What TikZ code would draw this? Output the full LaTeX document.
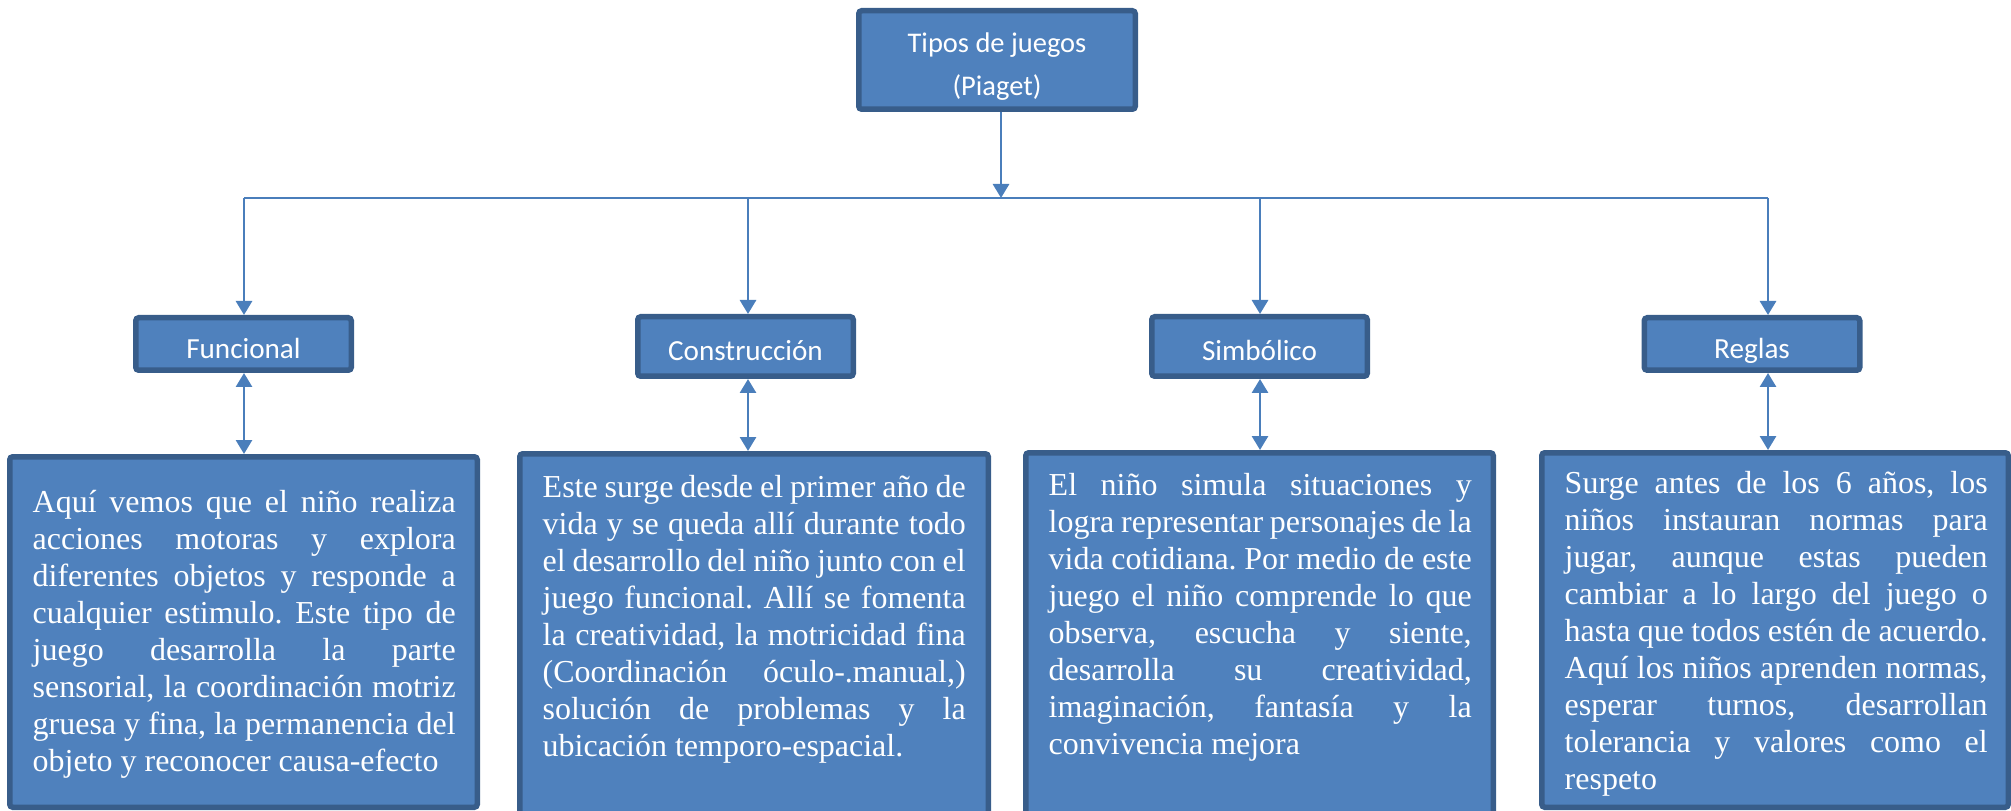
\documentclass[tikz,border=0pt]{standalone}
\usepackage{fontspec}
\setmainfont{Liberation Serif}
\newfontfamily\calibri{Carlito}
\usepackage{tikz}
\usetikzlibrary{arrows.meta,positioning}

\definecolor{boxfill}{HTML}{4F81BD}
\definecolor{boxline}{HTML}{385D8A}
\definecolor{linkcol}{HTML}{4A7EBB}
\newcommand{\descfont}{\fontsize{9.1}{10.5}\selectfont\frenchspacing\hyphenpenalty=10000\exhyphenpenalty=10000}

\begin{document}
\begin{tikzpicture}[x=0.1mm,y=-0.1mm,
    box/.style={draw=boxline,fill=boxfill,line width=0.55mm,rounded corners=0.3mm,text=white},
    tipo/.style={box,font=\calibri\fontsize{8.3}{10}\selectfont,minimum width=21.55mm,
      minimum height=5.25mm,inner sep=0pt,text height=2.8mm,text depth=0pt},
    desc/.style={box,minimum width=46.75mm,inner sep=0pt},
    desctext/.style={text=white,text width=42.3mm,align=justify,inner sep=0pt,font=\descfont},
    link/.style={draw=linkcol,line width=0.8pt,-{Triangle[width=1.6mm,length=1.4mm]}},
    dlink/.style={link,{Triangle[width=1.6mm,length=1.4mm]}-{Triangle[width=1.6mm,length=1.4mm]}}]
  \useasboundingbox (0,0) rectangle (2011,811);
  \clip (0,0) rectangle (2011,811);

  \node[box,font=\calibri\fontsize{8.1}{12.2}\selectfont,align=center,text height=21.5pt,
    minimum width=27.65mm,minimum height=9.85mm,inner sep=0pt] (tipos) at (997,60) {Tipos de juegos\\(Piaget)};

  \node[tipo] (t_1) at (243.5,344) {Funcional};
  \node[tipo,minimum height=5.95mm] (t_2) at (745.5,346.5) {Construcción};
  \node[tipo,minimum height=5.95mm] (t_3) at (1259.5,346.5) {Simbólico};
  \node[tipo] (t_4) at (1752,344) {Reglas};

  \node[desc,minimum height=35.05mm] (d_1) at (243.5,632) {};
  \node[desc,minimum width=46.85mm,minimum height=38.35mm] (d_2) at (754,645.5) {};
  \node[desc,minimum height=38.45mm] (d_3) at (1259.5,645) {};
  \node[desc,minimum width=46.65mm,minimum height=35.45mm] (d_4) at (1775,630) {};

  \node[desctext,below right=3.6mm and 2.5mm of d_1.north west] (x_1) {%
    Aquí vemos que el niño realiza\linebreak
    acciones motoras y explora\linebreak
    diferentes objetos y responde a\linebreak
    cualquier estimulo. Este tipo de\linebreak
    juego desarrolla la parte\linebreak
    sensorial, la coordinación motriz\linebreak
    gruesa y fina, la permanencia del\linebreak
    objeto y reconocer causa-efecto};
  \node[desctext,below right=2.4mm and 2.5mm of d_2.north west] (x_2) {%
    Este surge desde el primer año de\linebreak
    vida y se queda allí durante todo\linebreak
    el desarrollo del niño junto con el\linebreak
    juego funcional. Allí se fomenta\linebreak
    la creatividad, la motricidad fina\linebreak
    (Coordinación óculo-.manual,)\linebreak
    solución de problemas y la\linebreak
    ubicación temporo-espacial.};
  \node[desctext,below right=2.3mm and 2.5mm of d_3.north west] (x_3) {%
    El niño simula situaciones y\linebreak
    logra representar personajes de la\linebreak
    vida cotidiana. Por medio de este\linebreak
    juego el niño comprende lo que\linebreak
    observa, escucha y siente,\linebreak
    desarrolla su creatividad,\linebreak
    imaginación, fantasía y la\linebreak
    convivencia mejora};
  \node[desctext,below right=2.1mm and 2.5mm of d_4.north west] (x_4) {%
    Surge antes de los 6 años, los\linebreak
    niños instauran normas para\linebreak
    jugar, aunque estas pueden\linebreak
    cambiar a lo largo del juego o\linebreak
    hasta que todos estén de acuerdo.\linebreak
    Aquí los niños aprenden normas,\linebreak
    esperar turnos, desarrollan\linebreak
    tolerancia y valores como el\linebreak
    respeto};

  % bus line under the title
  \coordinate (hub) at (1001,198);
  \coordinate (c_1) at (244,198);
  \coordinate (c_2) at (748,198);
  \coordinate (c_3) at (1260,198);
  \coordinate (c_4) at (1768,198);
  \draw[linkcol,line width=0.6pt] (c_1) -- (c_4);

  \path
    (tipos.south -| hub) edge[link] (hub)
    (c_1) edge[link] (c_1 |- t_1.north)
    (c_2) edge[link] (c_2 |- t_2.north)
    (c_3) edge[link] (c_3 |- t_3.north)
    (c_4) edge[link] (c_4 |- t_4.north);
  \path
    (c_1 |- t_1.south) edge[dlink] (c_1 |- d_1.north)
    (c_2 |- t_2.south) edge[dlink] (c_2 |- d_2.north)
    (c_3 |- t_3.south) edge[dlink] (c_3 |- d_3.north)
    (c_4 |- t_4.south) edge[dlink] (c_4 |- d_4.north);
\end{tikzpicture}
\end{document}
